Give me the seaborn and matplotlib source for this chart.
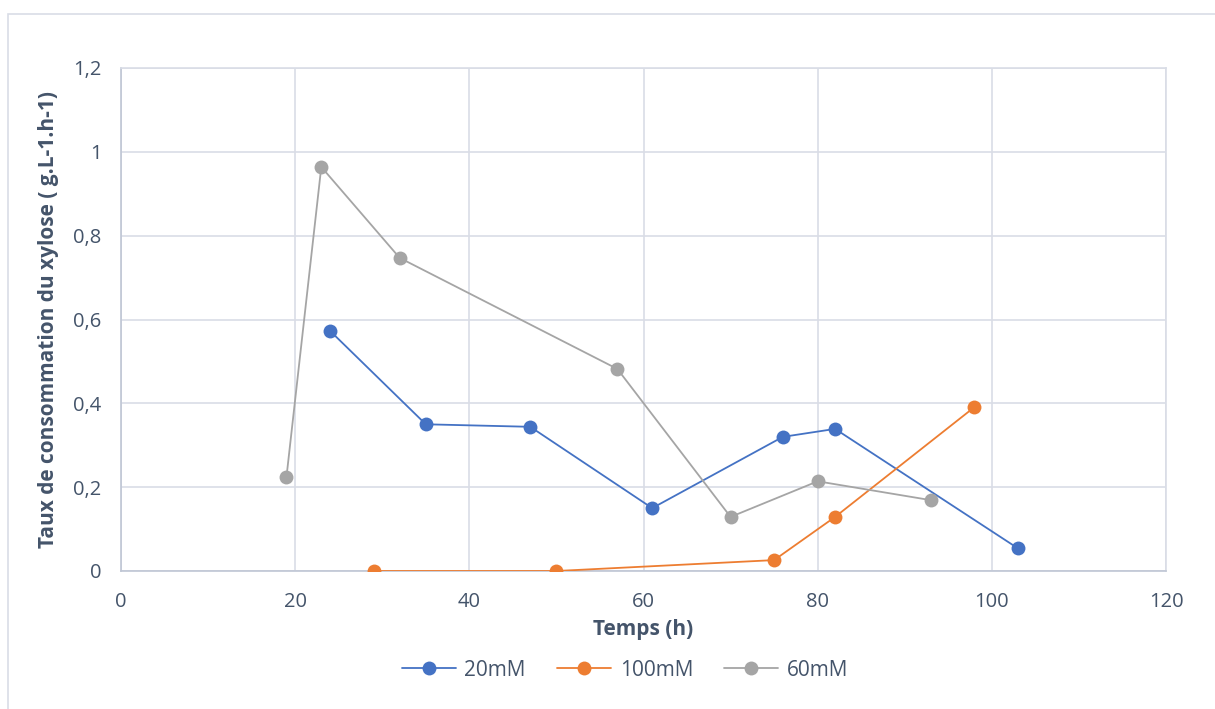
import matplotlib
matplotlib.use("Agg")
import matplotlib.pyplot as plt
import matplotlib.ticker as mticker
from matplotlib.patches import Rectangle
import seaborn as sns
import pandas as pd

# Xylose consumption rate over time for three concentrations
t_20mM = [24, 35, 47, 61, 76, 82, 103]
rate_20mM = [0.573, 0.350, 0.344, 0.150, 0.320, 0.339, 0.054]

t_100mM = [29, 50, 75, 82, 98]
rate_100mM = [0.0, 0.0, 0.026, 0.129, 0.391]

t_60mM = [19, 23, 32, 57, 70, 80, 93]
rate_60mM = [0.224, 0.964, 0.747, 0.482, 0.129, 0.214, 0.169]

series_names = ["20mM", "100mM", "60mM"]
colors = ["#4472C4", "#ED7D31", "#A5A5A5"]

x_ticks = [0, 20, 40, 60, 80, 100, 120]
y_ticks = [0, 0.2, 0.4, 0.6, 0.8, 1.0, 1.2]

frames = []
for name, t, r in zip(series_names, [t_20mM, t_100mM, t_60mM],
                      [rate_20mM, rate_100mM, rate_60mM]):
    frames.append(pd.DataFrame({"Temps": t, "Taux": r, "Série": name}))
df = pd.concat(frames, ignore_index=True)

sns.set_theme(style="white")
plt.rcParams["font.family"] = ["Open Sans", "DejaVu Sans"]
text_color = "#44546A"
grid_color = "#D9DDE6"

fig = plt.figure(figsize=(12.15, 7.09), dpi=100)
ax = fig.add_axes([121 / 1215, 138 / 709, (1166 - 121) / 1215, (571 - 68) / 709])

for name, color in zip(series_names, colors):
    sub = df[df["Série"] == name]
    sns.lineplot(data=sub, x="Temps", y="Taux", ax=ax, color=color,
                 marker="o", markersize=10, markeredgewidth=0,
                 linewidth=1.3, sort=False, label=name, zorder=3)

ax.set_xlim(0, 120)
ax.set_ylim(0, 1.2)
ax.set_xticks(x_ticks)
ax.set_yticks(y_ticks)


def comma_fmt(v, pos):
    if abs(v - round(v)) < 1e-9:
        return f"{int(round(v))}"
    return f"{v:.1f}".replace(".", ",")


ax.yaxis.set_major_formatter(mticker.FuncFormatter(comma_fmt))
ax.xaxis.set_major_formatter(mticker.FuncFormatter(comma_fmt))

ax.grid(True, color=grid_color, linewidth=1.2)
ax.set_axisbelow(True)
for side in ["left", "right", "bottom", "top"]:
    ax.spines[side].set_color(grid_color)
    ax.spines[side].set_linewidth(1.2)
ax.spines["left"].set_color("#BFC6D4")
ax.spines["bottom"].set_color("#BFC6D4")

ax.tick_params(axis="both", length=0, labelsize=14.5, colors=text_color)
ax.tick_params(axis="y", pad=14)
ax.tick_params(axis="x", pad=15)

ax.set_xlabel("Temps (h)", fontsize=15, fontweight="bold", color=text_color, labelpad=5)
ax.set_ylabel("Taux de consommation du xylose ( g.L-1.h-1)", fontsize=15,
              fontweight="bold", color=text_color, labelpad=10)

ax.get_legend().remove()
handles, labels = ax.get_legend_handles_labels()
leg = fig.legend(handles, labels, loc="center", bbox_to_anchor=(625 / 1215, 1 - 670 / 709),
                 ncol=3, frameon=False, fontsize=15, handlelength=2.6,
                 columnspacing=1.5, handletextpad=0.4)
for txt in leg.get_texts():
    txt.set_color(text_color)

# outer chart frame
fig.patches.append(Rectangle((8 / 1215, -0.1), 1.2, 1 - 14 / 709 + 0.1,
                             transform=fig.transFigure, fill=False,
                             edgecolor="#D9DDE6", linewidth=1.2))

fig.savefig("out.png", dpi=100)
